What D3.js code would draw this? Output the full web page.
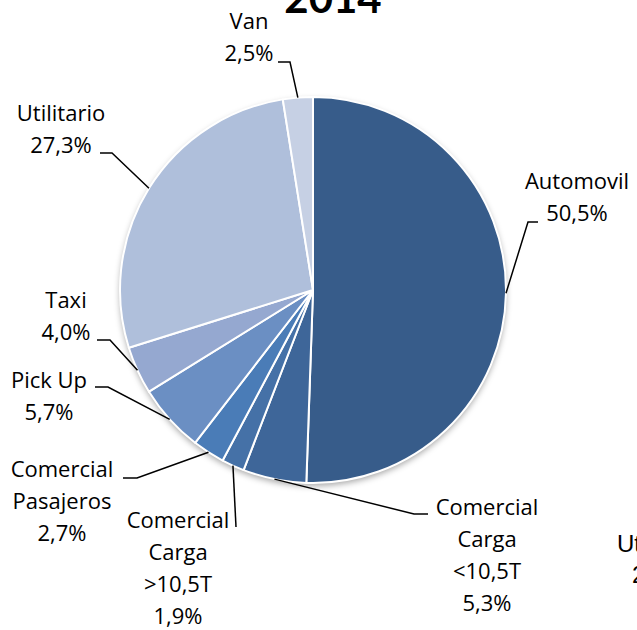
<!DOCTYPE html>
<html>
<head>
<meta charset="utf-8">
<script src="https://d3js.org/d3.v7.min.js"></script>
<style>
    body { margin: 0; background: #fff; }
    svg { display: block; }
    .lbl { font-family: "Open Sans", Lato, sans-serif; font-size: 22px; fill: #000; }
    .title { font-family: Lato, sans-serif; font-weight: bold; font-size: 42px; fill: #000; }
    .leader { fill: none; stroke: #000; stroke-width: 1.5px; }
</style>
</head>
<body>
<div id="chart"></div>
<script>
// data
const categories = ["Automovil", "Comercial Carga <10,5T", "Comercial Carga >10,5T",
    "Comercial Pasajeros", "Pick Up", "Taxi", "Utilitario", "Van"];
const shares = [50.5, 5.3, 1.9, 2.7, 5.7, 4.0, 27.3, 2.5];
const labelLines = [
    ["Automovil"],
    ["Comercial", "Carga", "<10,5T"],
    ["Comercial", "Carga", ">10,5T"],
    ["Comercial", "Pasajeros"],
    ["Pick Up"],
    ["Taxi"],
    ["Utilitario"],
    ["Van"]
];
const colors = ["#375c8a", "#3e6699", "#4571a7", "#4a7cb7", "#6b8fc3", "#95a8d0", "#afbfdb", "#c6d0e4"];

const width = 637, height = 630;
const cx = 313, cy = 290, radius = 193;

// label placement: x, first baseline, anchor, leader start/elbow
const layout = [
    { x: 577, y: 189, anchor: "middle", line: [[538, 222], [528, 222]] },
    { x: 487, y: 515, anchor: "middle", line: [[428, 514], [414, 514]] },
    { x: 178, y: 528, anchor: "middle", line: [[236, 527], [236, 527]] },
    { x: 62, y: 477, anchor: "middle", line: [[123, 478], [137, 478]] },
    { x: 49, y: 388, anchor: "middle", line: [[95, 387], [108, 387]] },
    { x: 66, y: 308, anchor: "middle", line: [[97, 340], [110, 340]] },
    { x: 61, y: 121, anchor: "middle", line: [[100, 153], [112, 153]] },
    { x: 249, y: 29, anchor: "middle", line: [[278, 62], [290, 62]] }
];
const lineStep = 32;

const svg = d3.select("#chart").append("svg")
    .attr("width", width)
    .attr("height", height);

const defs = svg.append("defs");
const shadow = defs.append("filter").attr("id", "shadow")
    .attr("x", "-10%").attr("y", "-10%").attr("width", "120%").attr("height", "120%");
shadow.append("feDropShadow")
    .attr("dx", 0).attr("dy", 3)
    .attr("stdDeviation", 3)
    .attr("flood-color", "#000")
    .attr("flood-opacity", 0.35);

const data = categories.map((c, i) => ({ name: c, value: shares[i], i: i }));

const pie = d3.pie().sort(null).value(d => d.value);
const arcs = pie(data);
const arc = d3.arc().innerRadius(0).outerRadius(radius);

const g = svg.append("g").attr("transform", `translate(${cx},${cy})`);

g.append("circle")
    .attr("r", radius)
    .attr("fill", "#fff")
    .attr("filter", "url(#shadow)");

g.selectAll("path.slice").data(arcs)
    .enter().append("path")
    .attr("class", "slice")
    .attr("d", arc)
    .attr("fill", d => colors[d.data.i])
    .attr("stroke", "#fff")
    .attr("stroke-width", 2)
    .attr("stroke-linejoin", "round");

// leader lines
const edgePoint = d => {
    const a = (d.startAngle + d.endAngle) / 2;
    return [cx + radius * Math.sin(a), cy - radius * Math.cos(a)];
};

svg.selectAll("path.leader").data(arcs)
    .enter().append("path")
    .attr("class", "leader")
    .attr("d", d => {
        const L = layout[d.data.i].line;
        return d3.line()([L[0], L[1], edgePoint(d)]);
    });

// labels
arcs.forEach(d => {
    const L = layout[d.data.i];
    const lines = labelLines[d.data.i].concat([d.data.value.toFixed(1).replace(".", ",") + "%"]);
    const t = svg.append("text")
        .attr("class", "lbl")
        .attr("text-anchor", L.anchor);
    lines.forEach((s, k) => {
        t.append("tspan")
            .attr("x", L.x)
            .attr("y", L.y + k * lineStep)
            .text(s);
    });
});

// title (cut by the top edge)
svg.append("text")
    .attr("class", "title")
    .attr("x", 333)
    .attr("y", 13)
    .attr("text-anchor", "middle")
    .text("2014");

// neighbouring chart label spilling in at the right edge
const spill = svg.append("text")
    .attr("class", "lbl")
    .style("font-family", "'Liberation Sans', Arial, sans-serif")
    .style("font-size", "24px");
spill.append("tspan").attr("x", 617).attr("y", 552).text("Utilitario");
spill.append("tspan").attr("x", 632).attr("y", 583).text("27,3%");
</script>
</body>
</html>
